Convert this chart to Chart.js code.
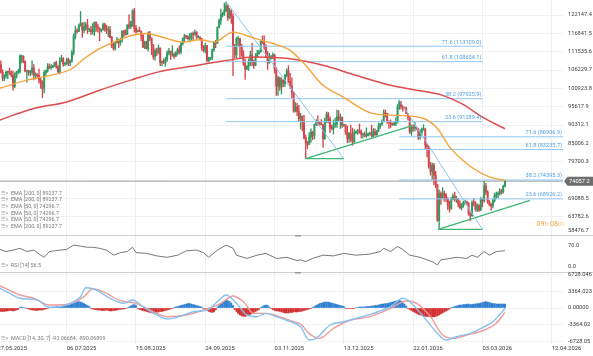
<!DOCTYPE html>
<html>
<head>
<meta charset="utf-8">
<title>BTC chart</title>
<script src="https://cdn.jsdelivr.net/npm/chart.js@4.4.1/dist/chart.umd.min.js"></script>
<style>
  html, body { margin:0; padding:0; background:#fff; }
  #wrap { position:relative; width:593px; height:356px; overflow:hidden; background:#fff; }
  #wrap canvas { position:absolute; left:0; }
</style>
</head>
<body>
<div id="wrap">
  <canvas id="cMain" width="593" height="236" style="top:0px"></canvas>
  <canvas id="cRsi" width="593" height="37" style="top:235px"></canvas>
  <canvas id="cMacd" width="593" height="84" style="top:272px"></canvas>
</div>
<script>
// ---------------- DATA (prices in thousands USD, day index 0 = 27.05.2025) ----------------
const firstOpen = 109.4;
const closes = [
108.9,107.8,105.6,103.9,104.6,
105.6,105.8,105.4,104.7,101.5,104.3,105.6,105.8,110.3,110.3,108.7,105.9,106.1,105.5,105.6,106.8,104.6,104.9,104.7,103.3,102.3,100.9,105.5,106.0,107.3,106.9,107.1,107.3,108.4,107.1,
105.7,108.8,109.6,108.0,108.2,109.2,108.3,108.9,111.3,115.9,117.5,117.4,119.1,119.8,117.7,118.7,119.3,117.9,117.9,117.3,117.4,120.0,118.7,118.3,117.6,117.9,119.4,118.0,117.8,117.8,115.7,
113.3,112.5,114.2,115.0,114.1,115.0,117.5,116.7,116.5,119.3,118.7,120.2,123.3,118.4,117.4,117.5,117.4,116.2,112.9,114.3,112.4,116.9,115.4,113.5,110.1,111.8,111.3,112.6,108.4,108.8,108.3,
109.2,111.2,111.7,110.7,110.7,110.2,111.2,112.1,111.5,113.9,115.5,116.1,115.9,115.3,115.4,116.8,116.5,117.1,115.7,115.7,115.3,112.7,112.0,113.3,109.0,109.7,109.7,112.1,114.4,114.0,
118.6,120.6,122.3,122.4,123.5,124.8,121.4,123.3,121.7,113.2,110.6,115.2,115.3,113.1,110.8,108.2,106.5,107.2,108.7,110.6,108.5,107.6,110.1,111.0,111.6,114.5,114.1,112.9,110.1,108.3,109.6,
110.1,110.6,106.5,101.5,103.9,101.3,103.3,102.3,104.7,106.0,103.0,101.6,99.7,94.4,95.6,94.2,92.2,92.9,91.5,86.6,85.1,84.7,86.8,88.3,87.3,90.5,91.3,90.9,90.8,90.4,
86.3,91.3,93.5,92.1,89.4,89.3,90.4,90.6,92.7,92.0,92.5,90.3,90.3,88.2,86.4,87.8,86.1,85.5,88.1,88.3,88.6,88.5,87.6,87.6,87.2,87.3,87.8,87.8,87.1,88.4,87.5,
88.7,89.9,90.6,91.4,93.8,93.7,91.3,91.0,90.6,90.4,90.8,91.1,95.5,97.0,95.6,95.5,95.1,93.6,92.6,88.3,89.5,89.4,89.5,89.2,86.6,88.3,89.1,89.2,84.6,84.1,78.6,
76.9,78.7,75.8,73.0,62.7,70.5,69.3,70.6,70.1,68.8,67.0,66.2,68.8,69.8,68.7,68.9,67.5,66.4,66.9,67.9,68.0,67.6,64.6,64.0,67.9,67.5,65.9,67.0,
65.7,68.8,68.3,72.7,70.9,68.1,67.3,66.9,68.4,69.9,70.2,70.5,71.2,70.9,72.6,74.0572
];
const highs = [
110.7,109.3,108.9,106.3,104.9,
105.9,105.9,106.8,106.0,105.9,105.4,105.9,106.4,110.6,110.4,110.3,108.9,106.2,106.2,106.1,108.9,107.8,105.5,105.2,106.5,104.0,103.1,106.1,106.3,108.1,108.0,107.8,107.6,108.5,108.8,
107.5,109.8,110.5,109.8,108.4,109.7,109.7,109.2,111.9,116.6,118.9,118.2,119.5,123.2,119.9,120.1,120.0,120.9,118.4,118.9,119.7,120.2,120.2,119.5,118.5,118.1,119.8,119.8,119.2,118.8,118.9,
116.0,114.0,114.6,115.7,115.2,115.5,117.6,117.7,117.9,119.3,122.3,120.3,123.7,124.1,119.2,117.9,118.6,117.6,116.8,114.6,114.6,117.3,117.4,115.6,113.6,112.4,112.6,113.4,112.6,108.9,109.5,
109.9,111.8,112.5,111.7,113.3,111.2,111.6,112.6,113.2,114.3,115.5,116.6,116.3,116.1,116.8,117.0,117.3,117.9,117.4,116.2,115.9,115.4,113.3,114.0,113.4,110.0,109.8,112.3,114.4,114.8,
118.7,121.0,123.9,122.9,125.6,126.0,125.1,124.1,123.7,122.5,113.7,115.7,116.0,115.5,113.7,111.9,109.3,107.5,109.4,111.7,114.0,109.1,111.0,112.0,111.9,114.6,116.1,116.1,113.6,111.6,111.1,
110.5,111.2,110.8,107.0,104.5,104.2,104.0,103.4,105.0,106.6,107.5,105.3,104.0,99.9,96.8,96.6,96.0,93.7,92.9,93.1,87.4,85.6,88.1,89.2,88.5,90.6,91.9,93.0,91.2,91.9,
90.4,92.3,94.1,94.0,92.7,90.3,91.8,92.3,94.6,94.5,93.5,92.7,90.6,90.4,90.0,88.2,90.3,89.4,89.0,88.6,89.1,90.6,88.9,88.0,88.3,89.5,88.0,88.3,90.3,89.3,89.2,
88.8,90.9,90.7,91.8,94.7,94.7,93.7,91.5,91.8,90.9,91.3,92.4,96.2,97.5,97.2,95.9,95.6,95.4,93.7,92.8,90.3,90.4,91.1,89.8,89.3,88.9,89.5,90.4,89.3,84.9,84.2,
79.5,79.3,79.2,76.9,73.2,71.5,71.0,72.2,71.2,70.5,69.3,68.3,69.4,70.4,70.9,69.7,69.0,68.4,67.6,68.3,68.6,68.3,67.9,65.0,68.4,69.0,68.2,67.6,
67.3,69.3,69.2,74.0,73.4,71.3,68.5,67.7,68.9,70.6,70.9,71.0,71.9,71.7,72.9,74.4
];
const lows = [
107.6,106.8,105.3,103.1,103.1,
103.9,103.7,104.9,104.2,100.4,101.1,103.9,105.1,105.3,108.3,108.3,105.7,102.7,104.7,104.5,104.9,103.4,103.6,103.9,102.4,100.9,98.2,99.6,104.7,105.6,106.6,106.4,106.9,107.2,106.8,
105.3,105.1,108.6,107.3,107.5,107.8,107.5,107.5,108.4,110.6,115.2,116.9,117.3,118.9,115.7,117.0,117.8,116.8,117.3,116.5,116.6,116.2,117.4,117.2,114.7,117.2,117.8,117.4,116.8,115.9,115.5,
112.7,112.0,112.0,114.0,112.7,113.4,114.3,115.9,116.3,116.5,118.1,118.2,118.9,117.2,116.8,117.2,117.3,114.7,112.7,112.4,112.3,111.7,114.7,110.7,109.4,109.1,110.4,110.9,107.5,107.5,108.1,
107.3,108.7,110.6,109.3,110.2,109.6,110.2,110.6,110.9,110.9,113.4,114.3,115.3,114.9,114.4,114.8,114.8,116.3,115.2,115.5,115.1,111.9,111.5,111.1,108.6,108.6,109.1,109.2,111.6,112.7,
113.9,118.4,119.4,121.6,122.0,123.1,120.6,121.1,119.7,104.6,109.7,109.8,113.0,109.9,110.2,107.6,103.5,106.3,106.1,107.5,107.4,106.7,107.5,109.8,110.8,111.3,113.9,112.3,109.9,106.4,108.2,
109.4,109.5,105.3,98.9,98.9,100.3,99.3,101.4,101.5,104.3,102.5,100.8,98.0,94.0,94.1,93.0,91.3,89.2,88.6,86.3,80.6,83.5,84.6,85.3,86.1,86.3,90.1,90.2,90.3,90.3,
83.8,86.2,91.0,90.9,88.1,88.9,87.7,89.6,89.6,91.6,89.3,89.6,89.8,87.6,85.2,85.3,85.4,84.4,85.1,87.8,87.6,87.9,86.6,86.5,86.9,86.7,87.1,87.4,86.8,86.8,87.3,
87.3,88.4,89.3,90.3,91.2,92.6,90.8,89.3,89.6,90.2,90.2,90.1,90.9,94.8,94.9,94.3,94.9,93.6,91.8,87.9,87.3,88.5,88.6,89.0,86.1,86.2,87.3,88.8,83.4,81.1,77.8,
75.8,74.6,73.0,72.2,62.4,60.1,67.3,68.9,68.3,68.1,65.8,65.1,65.9,68.6,68.2,67.9,66.6,66.0,65.7,66.5,67.4,67.1,64.2,62.6,63.9,66.8,65.4,65.2,
65.3,65.5,66.6,68.0,70.2,67.6,66.9,65.6,66.3,68.0,69.1,69.3,70.0,70.3,70.6,72.4
];
const lastPrice = 74057.2;

// EMA lines (day index, value in thousands)
const ema50Days = [1,17,28,43,50,59,67,78,86,98,107,117,125,136,149,159,169,177,188,198,217,231,246,254,261,271,284,293];
const ema50Vals = [100.9,103.3,104.4,106.6,109.5,112.4,114.3,116.3,116.8,115.3,114.3,115.0,114.3,117.2,115.3,113.9,111.9,108.1,101.8,98.9,93.6,93.1,92.2,89.3,84.0,79.1,75.3,74.3];
const ema200Days = [1,21,40,59,77,93,112,132,149,169,188,207,227,242,257,268,280,293];
const ema200Vals = [91.7,95.1,97.0,100.4,103.3,105.7,107.3,109.0,110.0,109.5,107.6,104.7,101.8,100.4,98.9,96.5,92.6,89.24];

// Fibonacci retracements
const fibLevels = ['71.6','61.8','38.2','23.6'];
const fib1Values = [113109.0,108654.1,97925.9,91289.4];
const fib1Span = [132,280];
const fib2Values = [86906.9,83235.7,74395.3,68926.2];
const fib2Span = [232,326.5];

// drawn trend lines (day index, price)
const blue1Days = [132,200];  const blue1Vals = [126019,80561];
const base1Days = [178,200];  const base1Vals = [80561,80561];
const rise1Days = [178,240];  const rise1Vals = [80561,90200];
const blue2Days = [232,280];  const blue2Vals = [97545,60085.7];
const base2Days = [254.5,280]; const base2Vals = [60085.7,60085.7];
const rise2Days = [254.5,307.4]; const rise2Vals = [60085.7,68521];

// RSI
const rsiDays = [1,5,9,13,17,21,25,27,30,36,40,44,48,52,55,59,63,67,71,75,78,80,86,92,98,104,109,115,119,122,127,132,136,138,144,150,155,161,167,173,175,178,182,188,194,200,207,215,221,223,227,231,234,238,244,248,251,254,256,259,265,271,274,277,281,284,288,293];
const rsiVals = [61,54,58,63,54,58,44,38,54,58,60,72,69,66,66,63,58,44,51,54,66,51,49,42,38,44,56,58,51,38,58,72,63,44,35,44,49,35,38,29,31,26,35,44,42,49,44,47,54,63,54,68,60,44,38,31,26,17,31,33,38,35,44,38,54,44,54,56.5];

// MACD
const macdDays = [1,7,13,23,30,36,42,48,51,57,65,73,78,84,94,98,105,113,121,127,132,138,144,150,155,161,169,175,180,184,192,200,207,217,227,234,238,246,254,259,265,273,281,286,293];
const macdVals = [4100,3000,1970,1620,140,260,950,2290,4120,3650,1970,950,1620,260,-1760,-2230,-1760,-750,-410,1280,2640,950,-1420,-1760,-1080,-1760,-2780,-3790,-6490,-6150,-3450,-2780,-2090,-1080,260,1970,1280,-1760,-5130,-6490,-5820,-5130,-3790,-2780,-93];
const sigDays = [1,13,21,30,40,50,55,61,71,80,90,98,109,119,129,136,142,148,155,163,171,175,180,186,194,204,215,227,236,242,250,257,263,271,281,288,293];
const sigVals = [4600,2640,1970,610,700,2300,3900,3310,1480,950,-750,-1760,-1420,-410,950,2430,1280,-1080,-1080,-1760,-2780,-3250,-5200,-6150,-4120,-2430,-1760,-60,1420,950,-1760,-5480,-6150,-5480,-4460,-3100,-890];
// histogram, daily, in hundreds
const histVals = [
-5,-6,-7,-7,-7,-6,-6,-5,-5,-6,-5,-4,-3,
1,2,1,0,
-1,-2,-3,-4,-4,-5,-5,-4,-4,-4,-3,-2,-1,
1,1,2,2,3,3,3,3,4,5,5,6,7,8,10,11,12,13,12,11,9,7,5,3,
-1,-2,-3,-3,-4,-4,-5,-5,-5,-4,-5,-6,-6,-5,-5,-4,-3,-3,-2,-2,-1,0,
2,4,6,7,5,
-1,-3,-4,-5,-6,-7,-8,-9,-10,-10,-10,-9,-8,-7,-7,-6,-5,-4,-3,-2,-1,
1,2,3,4,5,6,7,8,9,9,8,7,6,5,4,3,2,
-1,-3,-5,-7,-8,-9,-8,-4,
2,5,9,12,14,16,15,13,10,5,
-3,-7,-11,-14,-16,-17,-17,-16,-15,-13,-11,-9,-7,-5,-3,
1,3,5,6,5,2,
-1,-3,-5,-6,-6,-7,-8,-9,-10,-10,-10,-9,-9,-8,-8,-8,-7,-7,-6,-5,-4,-3,-2,-1,
1,3,5,7,9,10,11,12,12,12,11,10,9,8,7,6,5,4,3,
-1,-1,-1,-1,-1,-1,
1,1,2,2,2,2,3,3,3,4,4,5,5,6,7,8,8,9,9,10,
11,12,13,14,15,16,14,11,8,4,
-1,-3,-5,-7,-9,-11,-13,-14,-15,-16,-17,-17,-17,-18,-18,-18,-17,-16,-14,-12,-10,-8,-6,-4,-2,
1,2,3,4,5,6,6,7,7,8,8,7,7,8,8,9,9,10,11,12,13,12,11,10,9,9,8,8,8,8,8,8
];

// axes
const priceTicks = [58476.7,63782.6,69088.5,74394.4,79700.3,85006.2,90312.1,95617.9,100923.8,106229.7,111535.6,116841.5,122147.4];
const dateTicks = [0,40,80,120,160,200,240,280,320];
const dateLabels = ['27.05.2025','06.07.2025','15.08.2025','24.09.2025','03.11.2025','13.12.2025','22.01.2026','03.03.2026','12.04.2026'];
const rsiTicks = [70,0];
const rsiTickLabels = ['70.0','0.0'];
const macdTicks = [6728.046,3364.023,0,-3364.02,-6728.05];
const macdTickLabels = ['6728.046','3364.023','0.00000','-3364.02','-6728.05'];
const emaLegend = ['EMA [200, 0] 89237.7','EMA [200, 0] 89237.7','EMA [50, 0] 74296.7','EMA [50, 0] 74296.7','EMA [50, 0] 74296.7','EMA [200, 0] 89237.7'];
const rsiLegend = 'RSI [14] 56.5';
const macdLegend = 'MACD [14, 30, 7] -93.06684, -890.06809';

// ---------------- SETTINGS ----------------
const K = 1000;
const X_MIN = 1.5, X_MAX = 326.5;
const Y_MIN = 58476.7, Y_MAX = 126500;
const AXIS_W = 30;
const GREEN = '#2f9a63', RED = '#d6464b';
const FIB = '#92c7f2', FIB_TXT = '#4f9fe2';
const FONT = 'Roboto, "Open Sans", sans-serif';

const opens = closes.map((c, i) => i === 0 ? firstOpen : closes[i - 1]);
const bodyData = closes.map((c, i) => ({ x: i, y: [opens[i] * K, c * K] }));
const wickData = closes.map((c, i) => ({ x: i, y: [lows[i] * K, highs[i] * K] }));
const candleColors = closes.map((c, i) => c >= opens[i] ? GREEN : RED);
const pts = (days, vals, mul) => days.map((d, i) => ({ x: d, y: vals[i] * (mul || 1) }));

function lineDS(data, color, width, order, extra) {
  return Object.assign({ type: 'line', data, borderColor: color, borderWidth: width,
    pointRadius: 0, pointHoverRadius: 0, fill: false, order }, extra || {});
}
function xScale() {
  return { type: 'linear', min: X_MIN, max: X_MAX, offset: false,
    afterBuildTicks: ax => { ax.ticks = dateTicks.map(v => ({ value: v })); },
    ticks: { display: false }, grid: { color: '#eeeeee', drawTicks: false, offset: false },
    border: { display: false } };
}
function baseOptions(yOpts, padBottom) {
  return { responsive: false, animation: false, devicePixelRatio: 1,
    layout: { padding: { left: 0, right: 0, top: 0, bottom: padBottom } },
    plugins: { legend: { display: false }, tooltip: { enabled: false } },
    scales: { x: xScale(), y: yOpts } };
}
function iconRow(ctx, x, y, text) {
  ctx.fillStyle = '#a0a0a0';
  ctx.font = '5px ' + FONT;
  ctx.fillText('\u2630', x, y);
  ctx.fillText('\u00d7', x + 5, y);
  ctx.fillStyle = '#7a7a7a';
  ctx.font = '5.4px ' + FONT;
  ctx.fillText(text, x + 10.5, y);
}
function separator(ctx, w) {
  ctx.fillStyle = '#cfcfcf';
  ctx.fillRect(0, 0, w, 1);
  ctx.fillStyle = '#9a9a9a';
  ctx.fillRect(295, 0, 6, 1.5);
}

// ---------------- MAIN PRICE PANEL ----------------
const fibDatasets = [];
fib1Values.forEach(v => fibDatasets.push(lineDS(pts(fib1Span, [v, v]), FIB, 1, 5)));
fib2Values.forEach(v => fibDatasets.push(lineDS(pts(fib2Span, [v, v]), FIB, 1, 5)));

const mainOverlay = {
  id: 'mainOverlay',
  afterDraw(chart) {
    const { ctx, chartArea: ca, scales: { x, y } } = chart;
    ctx.save();
    ctx.textBaseline = 'middle';
    // price axis labels
    ctx.textAlign = 'left';
    ctx.font = '5.7px ' + FONT;
    ctx.fillStyle = '#3a3a3a';
    priceTicks.forEach(v => {
      let py = y.getPixelForValue(v);
      py = Math.min(Math.max(py, ca.top + 4), ca.bottom - 4.5);
      ctx.fillText(v.toFixed(1), ca.right + 5, py);
    });
    // fib labels
    ctx.textAlign = 'right';
    ctx.font = '5.6px ' + FONT;
    ctx.fillStyle = FIB_TXT;
    [[fib1Values, fib1Span], [fib2Values, fib2Span]].forEach(([vals, span]) => {
      const xr = x.getPixelForValue(span[1]) - 1;
      vals.forEach((v, i) => {
        ctx.fillText(fibLevels[i] + ' (' + v.toFixed(1) + ')', xr, y.getPixelForValue(v) - 4);
      });
    });
    // current price tag
    const py = y.getPixelForValue(lastPrice);
    ctx.fillStyle = '#6e6e6e';
    ctx.beginPath();
    ctx.moveTo(ca.right + 1, py);
    ctx.lineTo(ca.right + 4.5, py - 4.5);
    ctx.lineTo(chart.width, py - 4.5);
    ctx.lineTo(chart.width, py + 4.5);
    ctx.lineTo(ca.right + 4.5, py + 4.5);
    ctx.closePath();
    ctx.fill();
    ctx.textAlign = 'left';
    ctx.fillStyle = '#ffffff';
    ctx.font = '5.7px ' + FONT;
    ctx.fillText(lastPrice.toFixed(1), ca.right + 6, py + 0.3);
    // legend rows
    ctx.textAlign = 'left';
    emaLegend.forEach((t, i) => iconRow(ctx, 0.5, 193.5 + i * 6.65, t));
    // candle countdown
    ctx.font = '7px ' + FONT;
    const parts = [['09', '#f2a236'], ['h', '#f7c88c'], [' 08', '#f2a236'], ['m', '#f7c88c']];
    let total = parts.reduce((s, p) => s + ctx.measureText(p[0]).width, 0);
    let cx = ca.right + 1 - total;
    parts.forEach(p => { ctx.fillStyle = p[1]; ctx.fillText(p[0], cx, 224); cx += ctx.measureText(p[0]).width; });
    ctx.restore();
  }
};

new Chart(document.getElementById('cMain'), {
  type: 'bar',
  data: { datasets: [
    lineDS(pts(ema50Days, ema50Vals, K), '#f6a43a', 1.4, 2, { cubicInterpolationMode: 'monotone' }),
    lineDS(pts(ema200Days, ema200Vals, K), '#de4d4d', 1.5, 3, { cubicInterpolationMode: 'monotone' }),
    lineDS(pts(blue1Days, blue1Vals), '#8cc3f1', 1, 4),
    lineDS(pts(blue2Days, blue2Vals), '#8cc3f1', 1, 4),
    lineDS(pts(base1Days, base1Vals), '#3db676', 1.3, 4),
    lineDS(pts(rise1Days, rise1Vals), '#3db676', 1.3, 4),
    lineDS(pts(base2Days, base2Vals), '#3db676', 1.3, 4),
    lineDS(pts(rise2Days, rise2Vals), '#3db676', 1.3, 4),
    ...fibDatasets,
    { type: 'bar', data: bodyData, backgroundColor: candleColors, borderWidth: 0,
      barThickness: 1.3, minBarLength: 0.8, grouped: false, order: 9 },
    { type: 'bar', data: wickData, backgroundColor: candleColors, borderWidth: 0,
      barThickness: 0.7, grouped: false, order: 10 },
    lineDS(pts([X_MIN, X_MAX], [lastPrice, lastPrice]), '#a3a3a3', 1, 12)
  ] },
  options: baseOptions({ type: 'linear', position: 'right', min: Y_MIN, max: Y_MAX,
    afterBuildTicks: ax => { ax.ticks = priceTicks.map(v => ({ value: v })); },
    afterFit: ax => { ax.width = AXIS_W; },
    ticks: { display: false }, grid: { color: '#f1f1f1', drawTicks: false }, border: { display: false } }, 1),
  plugins: [mainOverlay]
});

// ---------------- RSI PANEL ----------------
const rsiOverlay = {
  id: 'rsiOverlay',
  afterDraw(chart) {
    const { ctx, chartArea: ca, scales: { y } } = chart;
    ctx.save();
    separator(ctx, chart.width);
    ctx.textBaseline = 'middle';
    ctx.textAlign = 'left';
    ctx.font = '5.7px ' + FONT;
    ctx.fillStyle = '#3a3a3a';
    rsiTicks.forEach((v, i) => {
      let py = y.getPixelForValue(v);
      py = Math.min(Math.max(py, ca.top + 4), ca.bottom - 4);
      ctx.fillText(rsiTickLabels[i], ca.right + 5, py);
    });
    iconRow(ctx, 0.5, 31, rsiLegend);
    ctx.restore();
  }
};
new Chart(document.getElementById('cRsi'), {
  type: 'line',
  data: { datasets: [ lineDS(pts(rsiDays, rsiVals), '#555555', 0.8, 1) ] },
  options: baseOptions({ type: 'linear', position: 'right', min: 0, max: 100,
    afterFit: ax => { ax.width = AXIS_W; },
    ticks: { display: false }, grid: { display: false }, border: { display: false } }, 1),
  plugins: [rsiOverlay]
});

// ---------------- MACD PANEL ----------------
const macdOverlay = {
  id: 'macdOverlay',
  afterDraw(chart) {
    const { ctx, chartArea: ca, scales: { x, y } } = chart;
    ctx.save();
    separator(ctx, chart.width);
    ctx.textBaseline = 'middle';
    ctx.textAlign = 'left';
    ctx.font = '5.7px ' + FONT;
    ctx.fillStyle = '#3a3a3a';
    macdTicks.forEach((v, i) => ctx.fillText(macdTickLabels[i], ca.right + 5, y.getPixelForValue(v)));
    iconRow(ctx, 0.5, 67, macdLegend);
    ctx.font = '5.9px ' + FONT;
    ctx.fillStyle = '#3a3a3a';
    dateTicks.forEach((d, i) => ctx.fillText(dateLabels[i], x.getPixelForValue(d), ca.bottom + 5));
    ctx.restore();
  }
};
new Chart(document.getElementById('cMacd'), {
  type: 'bar',
  data: { datasets: [
    lineDS(pts(macdDays, macdVals), '#86c1f0', 1.4, 1, { cubicInterpolationMode: 'monotone' }),
    lineDS(pts(sigDays, sigVals), '#f09b9b', 1.4, 2, { cubicInterpolationMode: 'monotone' }),
    { type: 'bar', data: histVals.map((h, i) => ({ x: i, y: h * 100 })),
      backgroundColor: histVals.map(h => h >= 0 ? '#2e7fd2' : '#d3302f'),
      borderWidth: 0, barThickness: 1.3, grouped: false, order: 5 }
  ] },
  options: baseOptions({ type: 'linear', position: 'right', min: -7300, max: 7300,
    afterBuildTicks: ax => { ax.ticks = macdTicks.map(v => ({ value: v })); },
    afterFit: ax => { ax.width = AXIS_W; },
    ticks: { display: false }, grid: { color: '#f3f3f3', drawTicks: false }, border: { display: false } }, 12),
  plugins: [macdOverlay]
});
</script>
</body>
</html>
